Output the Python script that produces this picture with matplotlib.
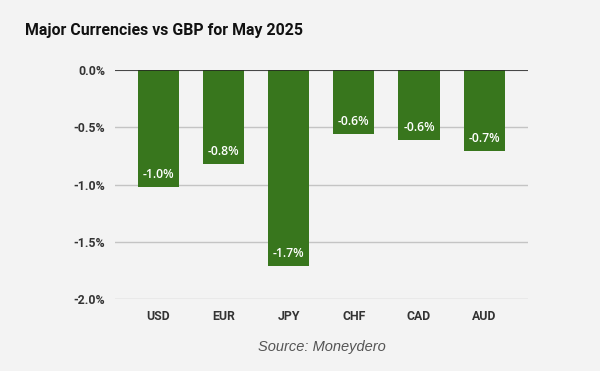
import matplotlib
matplotlib.use("Agg")
import matplotlib.pyplot as plt

categories = ["USD", "EUR", "JPY", "CHF", "CAD", "AUD"]
values = [-1.02, -0.82, -1.71, -0.56, -0.61, -0.71]
yticks = [0.0, -0.5, -1.0, -1.5, -2.0]

plt.rcParams['font.family'] = ['Roboto', 'DejaVu Sans']
bg = "#f3f3f3"
green = "#38761d"

fig = plt.figure(figsize=(6, 3.71), dpi=100, facecolor=bg)
ax = fig.add_axes([115/600, 1-299/371, (528-115)/600, (299-70)/371], facecolor=bg)

x = list(range(len(categories)))
bars = ax.bar(x, values, width=0.63, color=green, zorder=3)
for xi, v in zip(x, values):
    ax.annotate(f"{v:.1f}%", (xi, v), xytext=(0, 4.5), textcoords="offset points",
                ha="center", va="bottom", color="white", fontsize=8.8, fontweight="semibold",
                family=["Open Sans", "DejaVu Sans"], zorder=4)

ax.set_ylim(-2.0, 0.0)
ax.set_xlim(-0.66, 5.67)
ax.set_yticks(yticks)
ax.set_yticklabels([f"{t:.1f}%" for t in yticks])
ax.set_xticks(x)
ax.set_xticklabels(categories)
for lbl in ax.get_xticklabels() + ax.get_yticklabels():
    lbl.set_fontweight("bold")
    lbl.set_fontsize(8.8)
    lbl.set_color("#333333")
ax.tick_params(length=0, pad=8)
ax.tick_params(axis="y", pad=7)
ax.grid(axis="y", color="#c4c4c4", linewidth=1, zorder=0)
ax.axhline(0, color="#222222", linewidth=1.1, zorder=5)
for s in ax.spines.values():
    s.set_visible(False)

fig.text(25/600, 1-30/371, "Major Currencies vs GBP for May 2025", fontsize=11.4, fontweight="bold",
         color="#111111", ha="left", va="center")
fig.text(322/600, 1-347/371, "Source: Moneydero", fontsize=10.5, style="italic", color="#555555",
         family=["Liberation Sans", "DejaVu Sans"], ha="center", va="center")

fig.savefig("out.png", dpi=100, facecolor=bg)
